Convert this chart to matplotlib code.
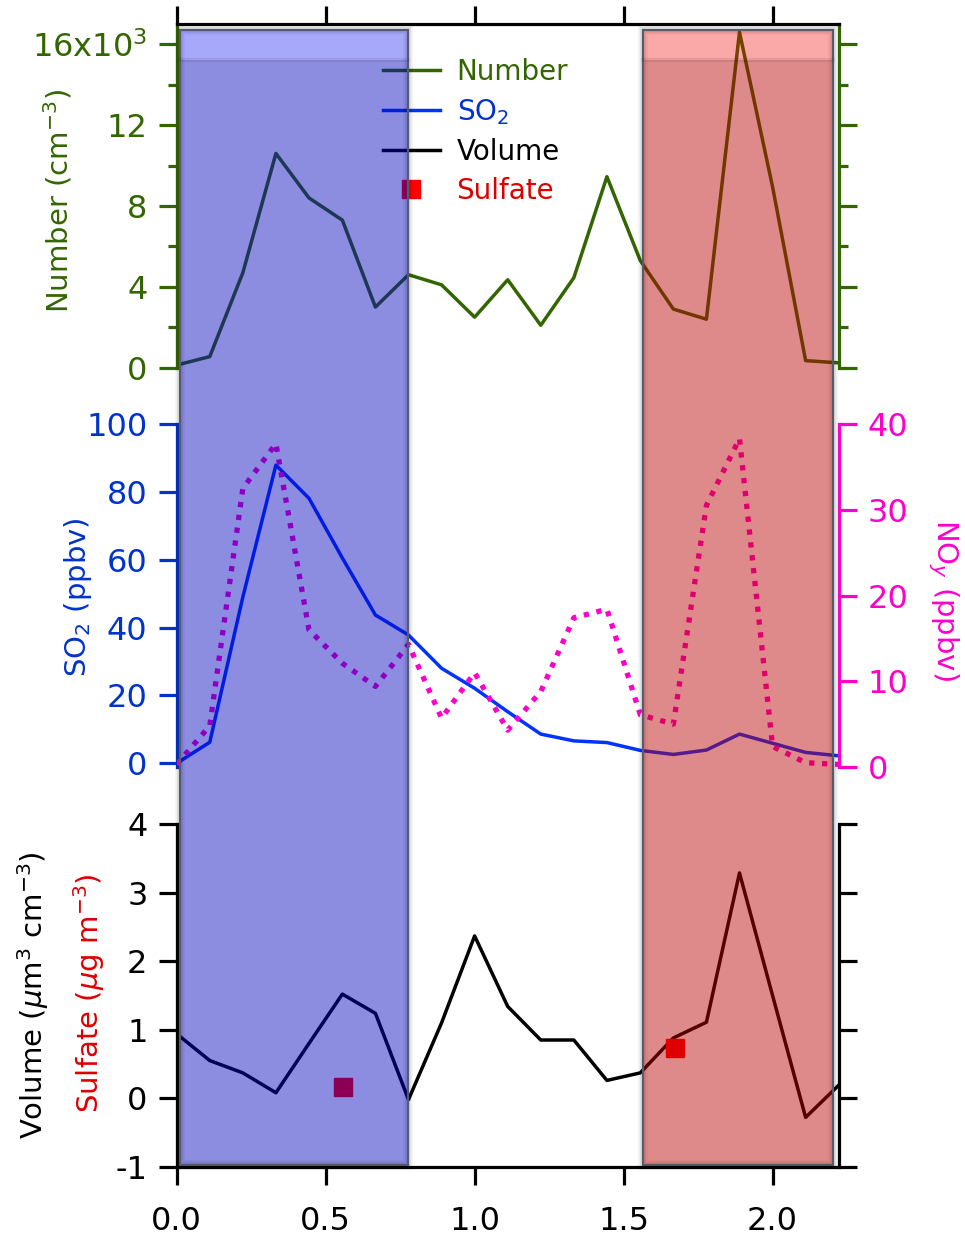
import matplotlib
matplotlib.use("Agg")
import matplotlib.pyplot as plt
from matplotlib.patches import Rectangle
from matplotlib.lines import Line2D
from matplotlib.ticker import FixedLocator, FixedFormatter, FormatStrFormatter

plt.rcParams['font.family'] = ['DejaVu Sans']
plt.rcParams['mathtext.fontset'] = 'dejavusans'
plt.rcParams['axes.unicode_minus'] = False

# ---- data -------------------------------------------------------------
hours = [0.000, 0.111, 0.222, 0.333, 0.444, 0.556, 0.667, 0.778, 0.889, 1.000,
         1.111, 1.222, 1.333, 1.444, 1.556, 1.667, 1.778, 1.889, 2.000, 2.111, 2.222]
number = [130, 550, 4700, 10600, 8400, 7300, 3000, 4600, 4100, 2500,
          4350, 2100, 4450, 9450, 5300, 2900, 2400, 16600, 8950, 350, 240]
so2 = [0.0, 6.2, 49.0, 87.9, 78.1, 60.5, 43.7, 37.8, 28.0, 22.1,
       15.2, 8.6, 6.6, 6.1, 3.8, 2.6, 3.9, 8.6, 5.9, 3.2, 2.2]
noy = [0.3, 4.8, 32.5, 37.7, 16.0, 12.1, 9.4, 14.3, 5.7, 11.0,
       4.3, 8.8, 17.4, 18.4, 6.1, 5.0, 30.5, 38.3, 2.4, 0.5, 0.3]
volume = [0.94, 0.55, 0.37, 0.08, 0.80, 1.52, 1.24, -0.02, 1.10, 2.37,
          1.34, 0.85, 0.85, 0.26, 0.37, 0.88, 1.11, 3.29, 1.50, -0.28, 0.19]
sulfate_hours = [0.558, 1.672]
sulfate = [0.16, 0.74]

number_ticks = [0, 4000, 8000, 12000, 16000]
number_ticklabels = ['0', '4', '8', '12', r'16x10$^{3}$']
x_ticks = [0.0, 0.5, 1.0, 1.5, 2.0]

# shaded periods (hours)
blue_period = (0.01, 0.778)
red_period = (1.565, 2.202)

# ---- colours ----------------------------------------------------------
GREEN = '#336600'
BLUE_LINE = '#0033ff'
BLUE_AX = '#0033cc'
MAGENTA = '#ff00cc'
RED = '#ff0000'
RED_TXT = '#dd0000'

W, H = 965, 1235
fig = plt.figure(figsize=(W / 100, H / 100), dpi=100)

X0, X1 = 176.7, 838.7


def rect_px(top, bottom):
    return [X0 / W, 1 - bottom / H, (X1 - X0) / W, (bottom - top) / H]


FS = 21       # axis titles
TFS = 23      # tick labels
TL = 13       # major tick length (pt)
TW = 2.3      # tick / spine width (pt)
LW = 2.5      # data line width


def style_side(ax, side, color):
    ax.spines[side].set_color(color)
    ax.spines[side].set_linewidth(TW)
    ax.tick_params(axis='y', which='major', colors=color, length=TL, width=TW,
                   direction='out', labelsize=TFS, pad=8)
    ax.tick_params(axis='y', which='minor', colors=color, length=6.5, width=TW,
                   direction='out')


def bare(ax):
    ax.set_facecolor('none')
    for s in ('top', 'bottom'):
        ax.spines[s].set_visible(False)
    ax.set_xticks([])
    ax.set_xlim(0, hours[-1])


# ---- top panel: particle number -------------------------------------
ax_n = fig.add_axes(rect_px(24.1, 367.7))
bare(ax_n)
ax_n.plot(hours, number, color=GREEN, lw=LW)
ax_n.set_ylim(0, 17000)
ax_n.yaxis.set_major_locator(FixedLocator(number_ticks))
ax_n.yaxis.set_major_formatter(FixedFormatter(number_ticklabels))
ax_n.yaxis.set_minor_locator(FixedLocator([2000, 6000, 10000, 14000]))
ax_n.tick_params(axis='y', which='both', left=True, right=True,
                 labelleft=True, labelright=False)
for s in ('left', 'right'):
    style_side(ax_n, s, GREEN)

# ---- middle panel: SO2 and NOy --------------------------------------
ax_s = fig.add_axes(rect_px(424, 767))
bare(ax_s)
ax_s.plot(hours, so2, color=BLUE_LINE, lw=LW)
ax_s.set_ylim(-1.1, 100)
ax_s.set_yticks([0, 20, 40, 60, 80, 100])
ax_s.spines['right'].set_visible(False)
style_side(ax_s, 'left', BLUE_AX)

ax_y = ax_s.twinx()
bare(ax_y)
ax_y.plot(hours, noy, color=MAGENTA, lw=3.8, linestyle=(0, (1, 1.45)),
          dash_capstyle='butt')
ax_y.set_ylim(0, 40)
ax_y.set_yticks([0, 10, 20, 30, 40])
ax_y.spines['left'].set_visible(False)
style_side(ax_y, 'right', MAGENTA)

# ---- bottom panel: volume and sulfate -------------------------------
ax_v = fig.add_axes(rect_px(824.3, 1166.7))
bare(ax_v)
ax_v.plot(hours, volume, color='black', lw=LW)
ax_v.plot(sulfate_hours, sulfate, ls='none', marker='s', ms=13.5,
          color=RED, mec=RED)
ax_v.set_ylim(-1, 4)
ax_v.set_yticks([-1, 0, 1, 2, 3, 4])
ax_v.tick_params(axis='y', which='both', left=True, right=True,
                 labelleft=True, labelright=False)
for s in ('left', 'right'):
    style_side(ax_v, s, 'black')

# ---- axis titles -----------------------------------------------------
fig.text(58 / W, 1 - 201 / H, r'Number (cm$^{-3}$)', rotation=90, color=GREEN,
         fontsize=FS, ha='center', va='center')
fig.text(78 / W, 1 - 597 / H, r'SO$_{2}$ (ppbv)', rotation=90, color=BLUE_AX,
         fontsize=FS, ha='center', va='center')
fig.text(943 / W, 1 - 600 / H, r'NO$_{y}$ (ppbv)', rotation=270, color=MAGENTA,
         fontsize=FS, ha='center', va='center')
fig.text(33 / W, 1 - 995 / H, r'Volume ($\mu$m$^{3}$ cm$^{-3}$)', rotation=90,
         color='black', fontsize=FS, ha='center', va='center')
fig.text(89 / W, 1 - 993 / H, r'Sulfate ($\mu$g m$^{-3}$)', rotation=90,
         color=RED_TXT, fontsize=FS, ha='center', va='center')

# ---- legend ----------------------------------------------------------
handles = [Line2D([], [], color=GREEN, lw=LW),
           Line2D([], [], color=BLUE_LINE, lw=LW),
           Line2D([], [], color='black', lw=LW),
           Line2D([], [], ls='none', marker='s', ms=13.5, color=RED)]
leg = ax_n.legend(handles, ['Number', r'SO$_{2}$', 'Volume', 'Sulfate'],
                  loc='upper left', bbox_to_anchor=(383 / W, 1 - 58 / H),
                  bbox_transform=fig.transFigure, frameon=False, fontsize=20,
                  handlelength=2.05, handletextpad=0.6, labelspacing=0.4,
                  borderpad=0, borderaxespad=0,
                  labelcolor=[GREEN, BLUE_AX, 'black', RED_TXT])

# ---- overlay axes: time axis and shaded periods ----------------------
ax_t = fig.add_axes(rect_px(24.1, 1166.7), zorder=10)
ax_t.set_facecolor('none')
ax_t.set_xlim(0, hours[-1])
ax_t.set_ylim(0, 1)
ax_t.spines['left'].set_visible(False)
ax_t.spines['right'].set_visible(False)
for s in ('top', 'bottom'):
    ax_t.spines[s].set_linewidth(TW)
ax_t.set_yticks([])
ax_t.set_xticks(x_ticks)
ax_t.xaxis.set_major_formatter(FormatStrFormatter('%.1f'))
ax_t.tick_params(axis='x', top=True, bottom=True, labeltop=False,
                 labelbottom=True, direction='out', length=TL, width=TW,
                 labelsize=TFS, pad=15)

span = 1166.7 - 24.1
y_top = 1 - (29.5 - 24.1) / span
y_band = 1 - (60 - 24.1) / span
y_bot = (1166.7 - 1165) / span
tr = ax_t.get_xaxis_transform()

for (xa, xb), body, band in [(blue_period, (0, 0, 187 / 255, 0.45), (0, 0, 246 / 255, 0.34)),
                             (red_period, (187 / 255, 0, 0, 0.46), (246 / 255, 0, 0, 0.34))]:
    # soft outer shadow
    for lw_, a_ in [(7, 0.05), (4.5, 0.08)]:
        ax_t.add_patch(Rectangle((xa, y_bot), xb - xa, y_top - y_bot, transform=tr,
                                 fill=False, ec=(0, 0, 0, a_), lw=lw_, clip_on=False))
    ax_t.add_patch(Rectangle((xa, y_bot), xb - xa, y_band - y_bot, transform=tr,
                             fc=body, ec='none', clip_on=False))
    ax_t.add_patch(Rectangle((xa, y_band), xb - xa, y_top - y_band, transform=tr,
                             fc=band, ec='none', clip_on=False))
    ax_t.plot([xa, xb], [y_band, y_band], transform=tr, color=(0, 0, 0, 0.08),
              lw=3, clip_on=False)
    ax_t.add_patch(Rectangle((xa, y_bot), xb - xa, y_top - y_bot, transform=tr,
                             fill=False, ec='#545c6c', lw=1.6, clip_on=False))

fig.savefig('out.png', dpi=100, facecolor='white')
